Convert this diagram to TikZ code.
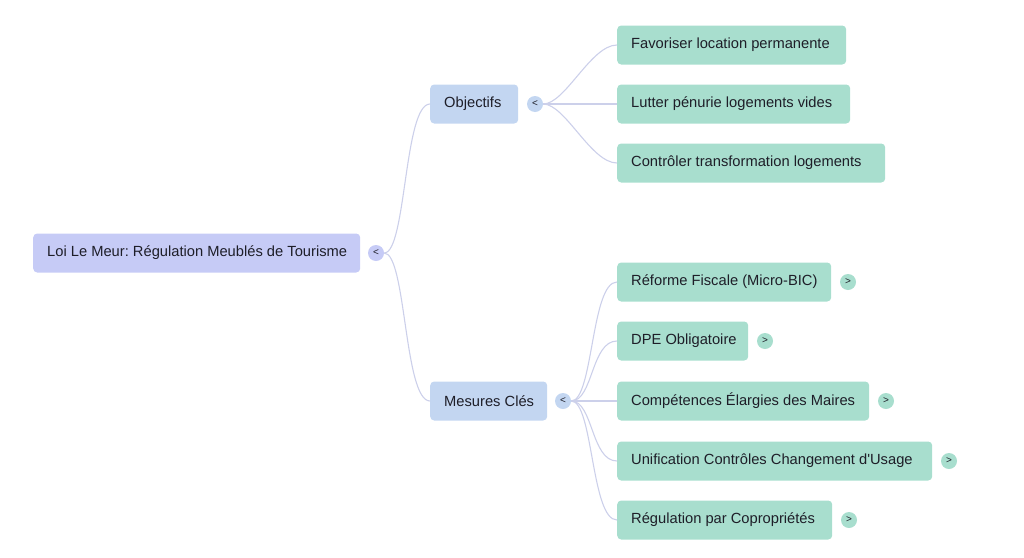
\documentclass[tikz,border=0pt]{standalone}
\usepackage{fontspec}
\newfontfamily\boxfont{Liberation Sans}
\frenchspacing
\definecolor{rootc}{RGB}{198,203,246}
\definecolor{midc}{RGB}{195,214,241}
\definecolor{leafc}{RGB}{168,222,206}
\definecolor{linec}{RGB}{204,208,234}
\definecolor{txt}{RGB}{30,30,40}
\newcommand{\lbl}[2]{\makebox[#1][l]{#2}}
\tikzset{
  box/.style={fill=#1, rounded corners=4pt, anchor=west, inner xsep=14pt, inner ysep=0pt,
    minimum height=39pt, font=\boxfont\fontsize{14.7}{16}\selectfont, text=txt},
  knob/.style={circle, fill=#1, inner sep=0pt, minimum size=16pt, font=\boxfont\fontsize{10}{10}\selectfont, text=txt},
  link/.style={draw=linec, line width=1.1pt},
}
\begin{document}
\begin{tikzpicture}[x=1pt,y=-1pt]
\useasboundingbox (0,0) rectangle (1024,557);
% root
\node[box=rootc] (root) at (33,253) {\lbl{299pt}{Loi Le Meur: Régulation Meublés de Tourisme}};
\node[knob=rootc] (kroot) at (376,253) {<};
% mid
\node[box=midc] (obj) at (430,104) {\lbl{60pt}{Objectifs}};
\node[knob=midc] (kobj) at (535,104) {<};
\node[box=midc] (mes) at (430,401) {\lbl{89pt}{Mesures Clés}};
\node[knob=midc] (kmes) at (563,401) {<};
% leaves objectifs
\node[box=leafc] (l1) at (617,45) {\lbl{201pt}{Favoriser location permanente}};
\node[box=leafc] (l2) at (617,104) {\lbl{205pt}{Lutter pénurie logements vides}};
\node[box=leafc] (l3) at (617,163) {\lbl{240pt}{Contrôler transformation logements}};
% leaves mesures
\node[box=leafc] (m1) at (617,282) {\lbl{186pt}{Réforme Fiscale (Micro-BIC)}};
\node[knob=leafc] (km1) at (848,282) {>};
\node[box=leafc] (m2) at (617,341) {\lbl{103pt}{DPE Obligatoire}};
\node[knob=leafc] (km2) at (765,341) {>};
\node[box=leafc] (m3) at (617,401) {\lbl{224pt}{Compétences Élargies des Maires}};
\node[knob=leafc] (km3) at (886,401) {>};
\node[box=leafc] (m4) at (617,461) {\lbl{287pt}{Unification Contrôles Changement d'Usage}};
\node[knob=leafc] (km4) at (949,461) {>};
\node[box=leafc] (m5) at (617,520) {\lbl{187pt}{Régulation par Copropriétés}};
\node[knob=leafc] (km5) at (849,520) {>};
% links
\foreach \a/\b in {kroot/obj,kroot/mes,kobj/l1,kobj/l2,kobj/l3,kmes/m1,kmes/m2,kmes/m3,kmes/m4,kmes/m5}{
  \draw[link] (\a.east) .. controls ([xshift=22pt]\a.east) and ([xshift=-26pt]\b.west) .. (\b.west);
}
\end{tikzpicture}
\end{document}
